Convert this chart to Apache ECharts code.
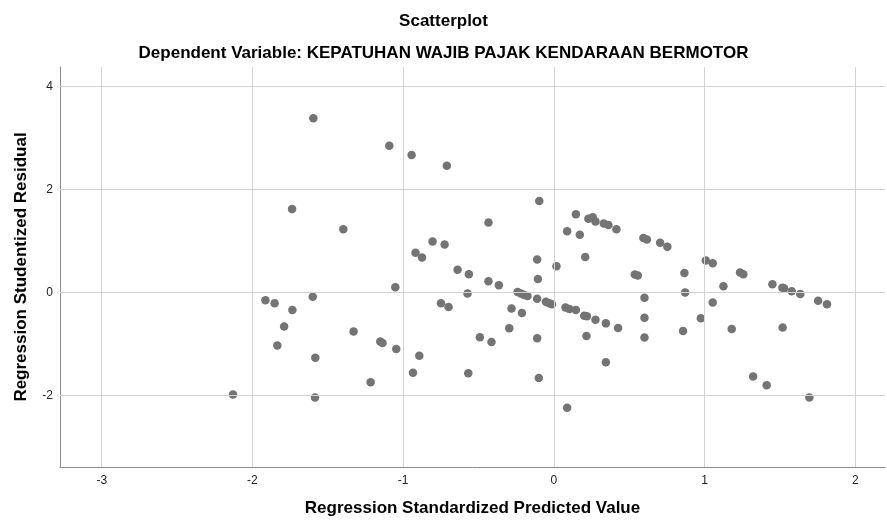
<!DOCTYPE html>
<html>
<head>
<meta charset="utf-8">
<script src="https://cdn.jsdelivr.net/npm/echarts@6/dist/echarts.min.js"></script>
<style>html,body{margin:0;padding:0;background:#fff}#c{width:887px;height:520px}</style>
</head>
<body>
<div id="c"></div>
<script>
const titleText = 'Scatterplot';
const subtitleText = 'Dependent Variable: KEPATUHAN WAJIB PAJAK KENDARAAN BERMOTOR';
const xAxisName = 'Regression Standardized Predicted Value';
const yAxisName = 'Regression Studentized Residual';
const xTicks = [-3, -2, -1, 0, 1, 2];
const yTicks = [-2, 0, 2, 4];
const predicted = [
  -1.737,-1.914,-1.853,-1.735,-1.790,-1.835,-2.129,-1.596,-1.092,-0.944,
  -0.710,-1.397,-0.805,-0.725,-0.918,-0.875,-1.052,-1.600,-1.329,-1.152,
  -1.137,-1.046,-1.583,-0.893,-0.935,-1.216,-1.585,-0.749,-0.699,-0.097,
  0.146,0.229,0.258,0.276,0.331,0.362,0.415,-0.434,0.088,0.172,
  0.594,0.617,0.705,0.753,0.208,-0.111,0.017,-0.639,-0.564,0.537,
  0.557,-0.106,-0.434,-0.365,-0.573,-0.241,-0.219,-0.197,-0.175,-0.111,
  0.601,-0.053,-0.031,-0.013,-0.281,0.077,0.103,0.146,-0.212,0.201,
  0.219,0.276,0.345,0.426,0.601,0.601,-0.296,-0.491,-0.414,-0.111,
  0.216,0.345,-0.568,-0.100,0.088,1.008,1.054,0.866,1.235,1.257,
  1.125,1.450,1.516,1.527,1.578,1.635,1.753,1.812,0.871,1.054,
  0.975,0.857,1.180,1.518,1.322,1.412,1.695
];
const residual = [
  1.62,-0.15,-0.21,-0.34,-0.66,-1.03,-1.98,3.385,2.85,2.67,
  2.46,1.23,0.99,0.93,0.77,0.68,0.10,-0.085,-0.76,-0.95,
  -0.98,-1.10,-1.27,-1.23,-1.56,-1.745,-2.04,-0.21,-0.28,1.776,
  1.52,1.43,1.46,1.38,1.34,1.31,1.23,1.36,1.19,1.12,
  1.06,1.03,0.965,0.887,0.69,0.64,0.51,0.44,0.356,0.35,
  0.33,0.26,0.22,0.14,-0.02,0.01,-0.02,-0.05,-0.07,-0.12,
  -0.10,-0.18,-0.21,-0.23,-0.31,-0.29,-0.32,-0.34,-0.40,-0.45,
  -0.46,-0.53,-0.60,-0.69,-0.49,-0.875,-0.695,-0.87,-0.96,-0.89,
  -0.845,-1.356,-1.57,-1.66,-2.24,0.62,0.57,0.38,0.39,0.356,
  0.12,0.16,0.09,0.08,0.025,-0.03,-0.16,-0.23,0.0,-0.195,
  -0.50,-0.75,-0.71,-0.68,-1.63,-1.80,-2.04
];
const points = predicted.map((x, i) => [x, residual[i]]);
const FONT = 'Liberation Sans';
const chart = echarts.init(document.getElementById('c'), null, {renderer: 'canvas'});
const gridLines = xTicks.map(v => ({xAxis: v})).concat(yTicks.map(v => ({yAxis: v})));
chart.setOption({
  animation: false,
  backgroundColor: '#fff',
  title: [
    {text: titleText, left: 'center', top: 8, textStyle: {fontFamily: FONT, fontSize: 17, fontWeight: 'bold', color: '#000'}},
    {text: subtitleText, left: 'center', top: 40, textStyle: {fontFamily: FONT, fontSize: 17, fontWeight: 'bold', color: '#000'}}
  ],
  grid: {left: 60, right: 2, top: 67, bottom: 53, containLabel: false, outerBoundsMode: 'none'},
  xAxis: {
    type: 'value', min: -3.277, max: 2.197,
    name: xAxisName, nameLocation: 'middle', nameGap: 33,
    nameTextStyle: {fontFamily: FONT, fontSize: 17, fontWeight: 'bold', color: '#000'},
    axisLine: {show: true, onZero: false, lineStyle: {color: '#8c8c8c', width: 1}},
    axisTick: {show: false},
    splitLine: {show: false},
    axisLabel: {customValues: xTicks, fontFamily: FONT, fontSize: 12, color: '#222', margin: 8}
  },
  yAxis: {
    type: 'value', min: -3.39, max: 4.38,
    name: yAxisName, nameLocation: 'middle', nameGap: 30, nameRotate: 90,
    nameTextStyle: {fontFamily: FONT, fontSize: 17, fontWeight: 'bold', color: '#000'},
    axisLine: {show: true, onZero: false, lineStyle: {color: '#8c8c8c', width: 1}},
    axisTick: {show: false},
    splitLine: {show: false},
    axisLabel: {customValues: yTicks, fontFamily: FONT, fontSize: 12, color: '#222', margin: 7}
  },
  series: [
    {
      type: 'scatter', data: [], z: 1, silent: true,
      markLine: {
        silent: true, symbol: ['none', 'none'], label: {show: false},
        lineStyle: {color: '#d3d3d3', width: 1, type: 'solid'},
        data: gridLines, animation: false
      }
    },
    {
      type: 'scatter', data: points, z: 3, symbol: 'circle', symbolSize: 8.5,
      itemStyle: {color: '#747474', opacity: 1}
    }
  ]
});
</script>
</body>
</html>
